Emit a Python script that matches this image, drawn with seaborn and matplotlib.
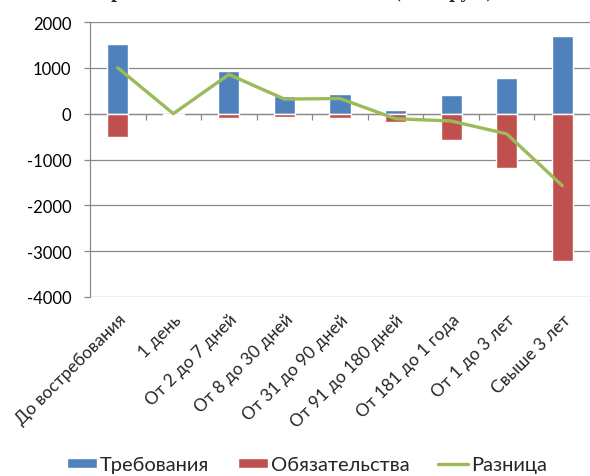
import numpy as np
import pandas as pd
import matplotlib
matplotlib.use('Agg')
import matplotlib.pyplot as plt
import seaborn as sns

categories = ['До востребования', '1 день', 'От 2 до 7 дней', 'От 8 до 30 дней',
              'От 31 до 90 дней', 'От 91 до 180 дней', 'От 181 до 1 года',
              'От 1 до 3 лет', 'Свыше 3 лет']
claims = [1520, 0, 935, 380, 430, 75, 415, 780, 1700]
liabilities = [-515, -20, -90, -65, -100, -180, -565, -1195, -3215]
difference = [1000, 0, 855, 318, 330, -110, -160, -440, -1570]

blue = '#4F81BD'
red = '#C0504D'
green = '#9BBB59'
grid_col = '#898989'

df = pd.DataFrame({'cat': categories, 'claims': claims,
                   'liab': liabilities, 'diff': difference})
df['pos'] = np.arange(len(df))

sns.set_style('white')
plt.rcParams['font.family'] = ['Lato', 'DejaVu Sans']
plt.rcParams['axes.unicode_minus'] = False

fig = plt.figure(figsize=(5.9, 4.77), dpi=100)
ax = fig.add_axes([90 / 590, 1 - 298 / 477, 500 / 590, 275 / 477])

sns.barplot(data=df, x='cat', y='claims', color=blue, width=0.38,
            saturation=1, ax=ax, label='Требования')
sns.barplot(data=df, x='cat', y='liab', color=red, width=0.38,
            saturation=1, ax=ax, label='Обязательства')
sns.lineplot(x=df['pos'], y=df['diff'], color=green, linewidth=2.4,
             ax=ax, label='Разница')

ax.set_ylim(-4000, 2000)
ax.set_xlim(-0.5, 8.5)
ax.set_yticks(range(-4000, 2001, 1000))
ax.yaxis.grid(True, color=grid_col, linewidth=0.9)
ax.set_axisbelow(True)
for s in ['top', 'right', 'bottom']:
    ax.spines[s].set_visible(False)
ax.spines['left'].set_color(grid_col)
ax.spines['left'].set_linewidth(0.9)
ax.tick_params(axis='y', length=4.5, color=grid_col, width=0.9, pad=9,
               labelsize=12, labelcolor='black', left=True)
ax.tick_params(axis='x', length=0, pad=10, labelsize=12.5)
ax.set_xticks(df['pos'])
ax.set_xticklabels(categories, rotation=45, ha='right', rotation_mode='anchor')
ax.set_xlabel('')
ax.set_ylabel('')

# category axis crossing at zero, ticks between categories pointing down
sec = ax.secondary_xaxis(4000 / 6000)
sec.xaxis.set_ticks_position('bottom')
sec.set_xticks(np.arange(0.5, 8.5, 1))
sec.set_xticklabels([])
for s in sec.spines.values():
    s.set_color(grid_col)
    s.set_linewidth(0.9)
sec.tick_params(axis='x', which='both', direction='out', length=4.5,
                color=grid_col, width=0.9, top=False, bottom=True)

if ax.get_legend():
    ax.get_legend().remove()
handles, labels = ax.get_legend_handles_labels()
order = [labels.index(n) for n in ['Требования', 'Обязательства', 'Разница']]
fig.legend([handles[i] for i in order], [labels[i] for i in order],
           loc='lower center', bbox_to_anchor=(0.52, -0.032),
           ncol=3, frameon=False, fontsize=14.5, handlelength=1.5,
           handleheight=0.45, columnspacing=1.4, handletextpad=0.15)

# title sits above the top edge, only its descenders show
fig.text(0.5, 1 + 3 / 477, 'Сравнение активов и пассивов (млн. руб.)',
         ha='center', va='baseline', fontsize=15, fontweight='bold',
         family=['Liberation Serif', 'DejaVu Serif'])

fig.savefig('out.png', dpi=100)
